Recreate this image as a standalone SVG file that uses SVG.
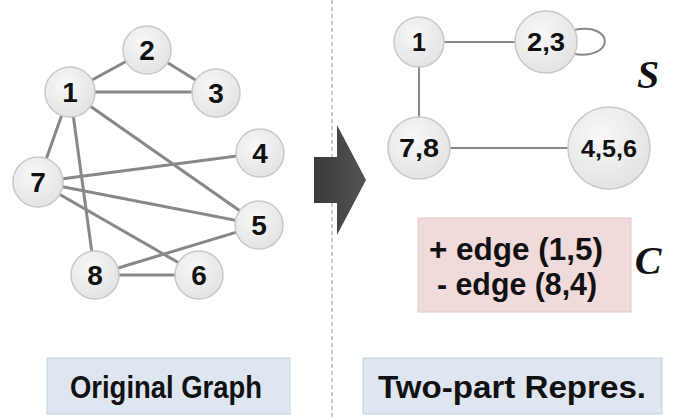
<svg xmlns="http://www.w3.org/2000/svg" width="688" height="420" viewBox="0 0 688 420">
<defs>
<radialGradient id="g" cx="0.4" cy="0.35" r="0.7"><stop offset="0" stop-color="#f8f8f8"/><stop offset="1" stop-color="#e2e2e2"/></radialGradient>
<linearGradient id="ag" x1="0" y1="0" x2="1" y2="0"><stop offset="0" stop-color="#3a3a3a"/><stop offset="1" stop-color="#555"/></linearGradient>
<style>
.n{fill:url(#g);stroke:#c8c8c8;stroke-width:1.5}
.t{font-family:"Liberation Sans",Arial,sans-serif;font-weight:bold;fill:#111;text-anchor:middle;dominant-baseline:central}
.e{stroke:#888;stroke-width:3;fill:none}
.e2{stroke:#888;stroke-width:2;fill:none}
.b{font-family:"Liberation Sans",Arial,sans-serif;font-weight:bold;fill:#111;text-anchor:middle;font-size:32px}
.it{font-family:"Liberation Serif","Times New Roman",serif;font-weight:bold;font-style:italic;font-size:40px;fill:#111;text-anchor:middle}
</style>
</defs>
<rect width="688" height="420" fill="#fff"/>
<line x1="332" y1="0" x2="332" y2="420" stroke="#bbb" stroke-width="1.5" stroke-dasharray="4,3"/>
<path d="M314,157 H337 V125 L366,180 L337,235 V203 H314 Z" fill="url(#ag)"/>
<g id="connectors">
<line class="e" x1="70" y1="92" x2="147" y2="50"/>
<line class="e" x1="147" y1="50" x2="215" y2="92"/>
<line class="e" x1="70" y1="92" x2="215" y2="92"/>
<line class="e" x1="70" y1="92" x2="38" y2="182"/>
<line class="e" x1="70" y1="92" x2="95" y2="275"/>
<line class="e" x1="70" y1="92" x2="260" y2="225"/>
<line class="e" x1="38" y1="182" x2="260" y2="153"/>
<line class="e" x1="38" y1="182" x2="260" y2="225"/>
<line class="e" x1="38" y1="182" x2="200" y2="275"/>
<line class="e" x1="95" y1="275" x2="260" y2="225"/>
<line class="e" x1="95" y1="275" x2="200" y2="275"/>
<line class="e2" x1="419" y1="42" x2="546" y2="42"/>
<line class="e2" x1="419" y1="42" x2="419" y2="148"/>
<line class="e2" x1="419" y1="148" x2="609" y2="148"/>
<path class="e2" d="M574,30 C615,22 615,60 574,54"/>
</g>
<g id="n2"><circle class="n" cx="147" cy="50" r="24"/><text class="t" x="147" y="50" font-size="28">2</text></g>
<g id="n1"><circle class="n" cx="70" cy="92" r="25"/><text class="t" x="70" y="92" font-size="28">1</text></g>
<g id="n3"><circle class="n" cx="216" cy="93" r="24"/><text class="t" x="216" y="93" font-size="28">3</text></g>
<g id="n4"><circle class="n" cx="260" cy="153" r="24"/><text class="t" x="260" y="153" font-size="28">4</text></g>
<g id="n7"><circle class="n" cx="38" cy="182" r="25"/><text class="t" x="38" y="182" font-size="28">7</text></g>
<g id="n5"><circle class="n" cx="259" cy="225" r="24"/><text class="t" x="259" y="225" font-size="28">5</text></g>
<g id="n8"><circle class="n" cx="95" cy="275" r="24"/><text class="t" x="95" y="275" font-size="28">8</text></g>
<g id="n6"><circle class="n" cx="199" cy="275" r="24"/><text class="t" x="199" y="275" font-size="28">6</text></g>
<g id="s1"><circle class="n" cx="419" cy="42" r="25"/><text class="t" x="419" y="42" font-size="25">1</text></g>
<g id="s23"><circle class="n" cx="546" cy="42" r="31"/><text class="t" x="546" y="42" font-size="25" textLength="38" lengthAdjust="spacingAndGlyphs">2,3</text></g>
<g id="s78"><circle class="n" cx="419" cy="148" r="31"/><text class="t" x="419" y="148" font-size="25" textLength="40" lengthAdjust="spacingAndGlyphs">7,8</text></g>
<g id="s456"><circle class="n" cx="609" cy="148" r="41"/><text class="t" x="609" y="148" font-size="24" textLength="56" lengthAdjust="spacingAndGlyphs">4,5,6</text></g>
<text class="it" x="648" y="88">S</text>
<text class="it" x="648" y="274">C</text>
<g id="corr"><rect x="418" y="218" width="213" height="94" fill="#f1dada" stroke="#e6c8c8"/>
<text class="b" x="516" y="260" textLength="174" lengthAdjust="spacingAndGlyphs">+ edge (1,5)</text>
<text class="b" x="517" y="295" textLength="160" lengthAdjust="spacingAndGlyphs">- edge (8,4)</text></g>
<g id="lab1"><rect x="47" y="358" width="243" height="56" fill="#dde6f1" stroke="#c5d0de"/><text class="b" x="166" y="398" textLength="192" lengthAdjust="spacingAndGlyphs">Original Graph</text></g>
<g id="lab2"><rect x="363" y="358" width="299" height="56" fill="#dde6f1" stroke="#c5d0de"/><text class="b" x="512" y="398" textLength="268" lengthAdjust="spacingAndGlyphs">Two-part Repres.</text></g>
</svg>
